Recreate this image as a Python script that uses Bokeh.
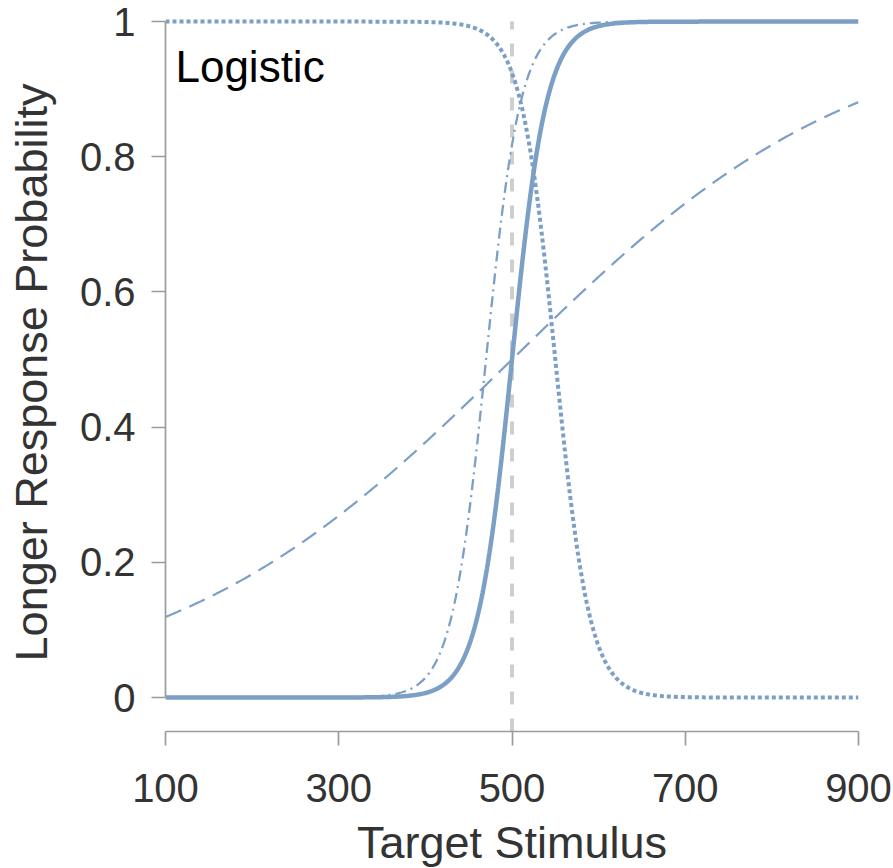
from bokeh.plotting import figure
from bokeh.models import FixedTicker, Label, Range1d
from bokeh.embed import file_html
from bokeh.resources import INLINE
import numpy as np

# Logistic psychometric curves: location (stimulus at p = 0.5) and scale
# (negative scale gives a falling curve)
curve_names = ["baseline", "shifted", "shallow", "reversed"]
curve_location = [500, 470, 500, 550]
curve_scale = [20, 20, 200, -20]
curve_dash = ["solid", "11 5 2 5", "17 9", "4 3"]
curve_width = [4.5, 2.3, 2.2, 4]

# Point of subjective equality marker and axis ticks
reference_stimulus = 500
x_ticks = [100, 300, 500, 700, 900]
y_ticks = [0, 0.2, 0.4, 0.6, 0.8, 1]
y_tick_labels = ["0", "0.2", "0.4", "0.6", "0.8", "1"]

stimulus = np.linspace(100, 900, 801)

FONT = "Liberation Sans"
BLUE = "#7b9fc5"

p = figure(
    frame_width=693, frame_height=718,
    min_border_left=165, min_border_right=35,
    min_border_top=13, min_border_bottom=137,
    x_range=Range1d(100, 900), y_range=Range1d(-0.0503, 1.012),
    output_backend="svg", toolbar_location=None,
)
p.outline_line_color = None
p.grid.visible = False
p.background_fill_color = "white"
p.border_fill_color = "white"

# dashed reference line at the midpoint stimulus
p.segment(x0=[reference_stimulus], y0=[-0.0503], x1=[reference_stimulus], y1=[1.0],
          line_color="#cdcfcf", line_width=4, line_dash="13 14")

for name, loc, scale, dash, w in zip(curve_names, curve_location, curve_scale,
                                     curve_dash, curve_width):
    prob = 1.0 / (1.0 + np.exp(-(stimulus - loc) / scale))
    p.line(stimulus, prob, line_color=BLUE, line_width=w, line_dash=dash)

p.add_layout(Label(x=111.5, y=0.933, text="Logistic", text_font=FONT,
                   text_font_size="44px", text_color="black",
                   text_baseline="alphabetic"))

for ax in (p.xaxis[0], p.yaxis[0]):
    ax.axis_line_color = "#9a9a9a"
    ax.axis_line_width = 1.7
    ax.major_tick_line_color = "#9a9a9a"
    ax.major_tick_line_width = 1.7
    ax.major_tick_out = 14
    ax.major_tick_in = 0
    ax.minor_tick_out = 0
    ax.minor_tick_in = 0
    ax.major_label_text_font = FONT
    ax.major_label_text_font_size = "40px"
    ax.major_label_text_color = "#333333"
    ax.axis_label_text_font = FONT
    ax.axis_label_text_font_size = "45px"
    ax.axis_label_text_font_style = "normal"
    ax.axis_label_text_color = "#333333"

p.xaxis.ticker = FixedTicker(ticks=x_ticks)
p.xaxis.bounds = (100, 900)
p.xaxis.axis_label = "Target Stimulus"
p.xaxis.major_label_standoff = 28
p.xaxis.axis_label_standoff = 12

p.yaxis.ticker = FixedTicker(ticks=y_ticks)
p.yaxis.major_label_overrides = {t: s for t, s in zip(y_ticks, y_tick_labels)}
p.yaxis.bounds = (0, 1)
p.yaxis.axis_label = "Longer Response Probability"
p.yaxis.major_label_standoff = 16
p.yaxis.axis_label_standoff = 20

open("out.html", "w").write(file_html(p, INLINE))
